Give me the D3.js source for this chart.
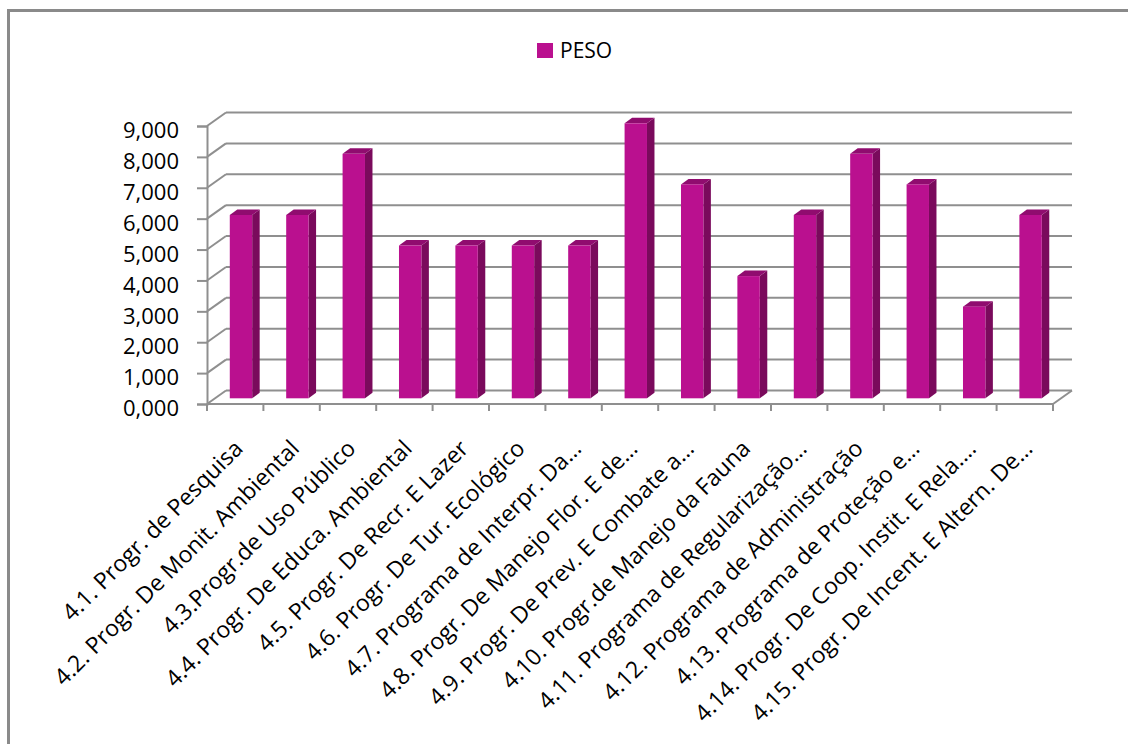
<!DOCTYPE html>
<html>
<head>
<meta charset="utf-8">
<script src="https://cdn.jsdelivr.net/npm/d3@7"></script>
<style>
  html, body { margin: 0; padding: 0; background: #fff; }
  svg { display: block; }
  text { font-family: "Open Sans", "Noto Sans", sans-serif; fill: #000; }
</style>
</head>
<body>
<svg id="chart" width="1128" height="744"></svg>
<script>
const categories = [
  "4.1. Progr. de Pesquisa",
  "4.2. Progr. De Monit. Ambiental",
  "4.3.Progr.de Uso Público",
  "4.4. Progr. De Educa. Ambiental",
  "4.5. Progr. De Recr. E Lazer",
  "4.6. Progr. De Tur. Ecológico",
  "4.7. Programa de Interpr. Da…",
  "4.8. Progr. De Manejo Flor. E de…",
  "4.9. Progr. De Prev. E Combate a…",
  "4.10. Progr.de Manejo da Fauna",
  "4.11. Programa de Regularização…",
  "4.12. Programa de Administração",
  "4.13. Programa de Proteção e…",
  "4.14. Progr. De Coop. Instit. E Rela.…",
  "4.15. Progr. De Incent. E Altern. De…"
];
const pesoValues = [6, 6, 8, 5, 5, 5, 5, 9, 7, 4, 6, 8, 7, 3, 6];
const yTickValues = [0, 1, 2, 3, 4, 5, 6, 7, 8, 9];
const seriesName = "PESO";

const svg = d3.select("#chart");
const ptBR = d3.formatLocale({decimal: ",", thousands: ".", grouping: [3], currency: ["R$", ""]});
const fmt = ptBR.format(".3f");

const GRID = "#8f8f8f";
const FRONT = "#BA108F", SIDE = "#7A0A5C", TOP = "#900C6F";

// outer frame
svg.append("rect").attr("x", 8.5).attr("y", 10.5).attr("width", 1200).attr("height", 800)
  .attr("fill", "none").attr("stroke", "#8a8a8a").attr("stroke-width", 3);

// scales
const x = d3.scaleBand().domain(categories).range([207, 1053]).paddingInner(0).paddingOuter(0);
const y = d3.scaleLinear().domain([0, 9]).range([404, 126]);
const yBar = d3.scaleLinear().domain([0, 9]).range([398.3, 123.3]);
const DX = 19, DY = -13.5;   // wall depth
const BDX = 7.5, BDY = -5.5; // bar depth

const g = svg.append("g");

// back wall gridlines + side wall diagonals
yTickValues.forEach(t => {
  g.append("line").attr("x1", 207 + DX).attr("x2", 1053 + DX)
    .attr("y1", y(t) + DY).attr("y2", y(t) + DY)
    .attr("stroke", GRID).attr("stroke-width", 2);
  g.append("line").attr("x1", 207).attr("x2", 207 + DX)
    .attr("y1", y(t)).attr("y2", y(t) + DY)
    .attr("stroke", GRID).attr("stroke-width", 2);
});

// floor front edge and right diagonal
g.append("line").attr("x1", 207).attr("x2", 1053).attr("y1", y(0)).attr("y2", y(0))
  .attr("stroke", GRID).attr("stroke-width", 2);
g.append("line").attr("x1", 1053).attr("x2", 1053 + DX).attr("y1", y(0)).attr("y2", y(0) + DY)
  .attr("stroke", GRID).attr("stroke-width", 2);

// x ticks at category boundaries
const bounds = categories.map(c => x(c)).concat([x(categories[categories.length - 1]) + x.bandwidth()]);
g.selectAll(".xt").data(bounds).enter().append("line")
  .attr("x1", d => d).attr("x2", d => d).attr("y1", y(0)).attr("y2", y(0) + 7)
  .attr("stroke", GRID).attr("stroke-width", 2);

// y axis
const yAxis = d3.axisLeft(y).tickValues(yTickValues).tickFormat(fmt).tickSize(10).tickPadding(18);
const ya = svg.append("g").attr("transform", "translate(207,0)").call(yAxis);
ya.select(".domain").attr("stroke", GRID).attr("stroke-width", 2);
ya.selectAll(".tick line").attr("stroke", GRID).attr("stroke-width", 2);
ya.selectAll(".tick text").attr("font-size", 22).attr("font-family", "'Open Sans', sans-serif")
  .attr("fill", "#000").attr("y", 4).attr("dy", "0.35em");

// bars
const bw = x.bandwidth() * 0.397;
const bars = svg.append("g").selectAll("g").data(categories.map((c, i) => ({c, v: pesoValues[i]})))
  .enter().append("g");
bars.each(function(d) {
  const gb = d3.select(this);
  const bx = x(d.c) + x.bandwidth() * 0.404;
  const top = yBar(d.v), bot = yBar(0);
  gb.append("polygon").attr("fill", SIDE)
    .attr("points", [[bx + bw, top], [bx + bw + BDX, top + BDY], [bx + bw + BDX, bot + BDY], [bx + bw, bot]].join(" "));
  gb.append("polygon").attr("fill", TOP)
    .attr("points", [[bx, top], [bx + BDX, top + BDY], [bx + bw + BDX, top + BDY], [bx + bw, top]].join(" "));
  gb.append("rect").attr("fill", FRONT).attr("x", bx).attr("y", top).attr("width", bw).attr("height", bot - top);
});

// x labels
svg.append("g").selectAll("text").data(categories).enter().append("text")
  .attr("transform", d => `translate(${x(d) + x.bandwidth() / 2 + 9},450) rotate(-45)`)
  .attr("text-anchor", "end").attr("font-size", 23)
  .text(d => d);

// legend
const lg = svg.append("g");
lg.append("rect").attr("x", 537).attr("y", 43).attr("width", 16).attr("height", 15).attr("fill", FRONT);
lg.append("text").attr("x", 560).attr("y", 58).attr("font-size", 21).text(seriesName);
</script>
</body>
</html>
